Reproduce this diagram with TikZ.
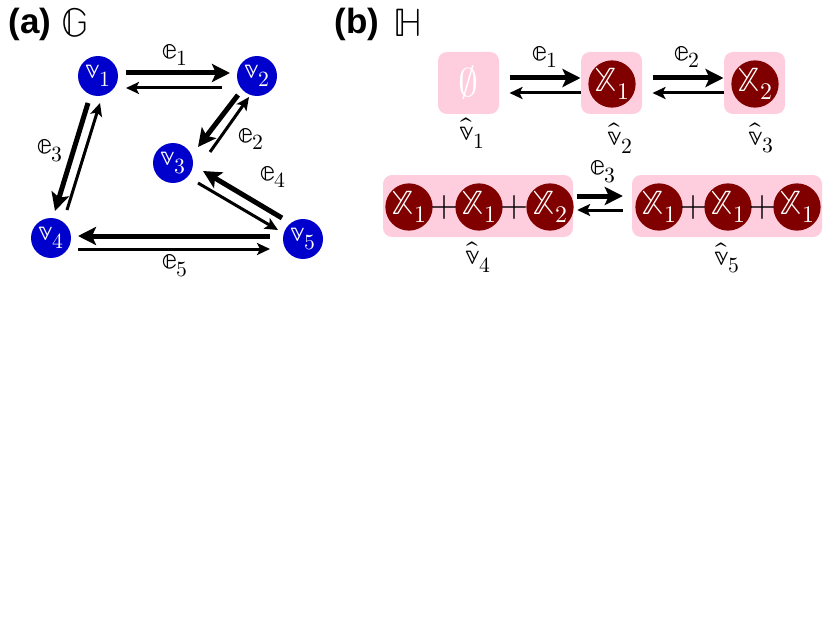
\documentclass[tikz,border=0pt]{standalone}
\usepackage{fontspec}
\usepackage{unicode-math}
\setmathfont{Latin Modern Math}
\newfontfamily\hv{Liberation Sans}
\usetikzlibrary{arrows.meta}
\definecolor{vblue}{RGB}{0,0,204}
\definecolor{xred}{RGB}{128,0,0}
\definecolor{boxpink}{RGB}{255,206,222}
\begin{document}
\begin{tikzpicture}[x=1pt,y=-1pt,
  font=\fontsize{31}{36}\selectfont,
  gnode/.style={circle,fill=vblue,text=white,minimum size=40pt,inner sep=0pt},
  xnode/.style={circle,fill=xred,text=white,minimum size=42pt,inner sep=0pt,font=\fontsize{34}{38}\selectfont},
  pbox/.style={fill=boxpink,rounded corners=9pt,inner sep=0pt},
  thk/.style={line width=5pt,-{Stealth[length=18pt,width=18pt,inset=4pt]}},
  thn/.style={line width=3pt,-{Stealth[length=13pt,width=12pt,inset=3pt]}},
  lab/.style={inner sep=0pt},
  plus/.style={inner sep=0pt,font=\fontsize{36}{40}\selectfont},
  ttl/.style={inner sep=0pt,font=\fontsize{40}{46}\selectfont},
  hdr/.style={inner sep=0pt,font=\fontsize{35}{40}\selectfont\hv\bfseries}
]
\useasboundingbox (0,0) rectangle (830,623);
% titles
\node[hdr] (ta) at (30,24) {(a)};
\node[ttl] (tg) at (75,23) {$\mathbb{G}$};
\node[hdr] (tb) at (357,24) {(b)};
\node[ttl] (th) at (408,23) {$\mathbb{H}$};
% graph G
\node[gnode] (v1) at (98,76) {$\mathbb{v}_1$};
\node[gnode] (v2) at (257,76) {$\mathbb{v}_2$};
\node[gnode] (v3) at (173,163) {$\mathbb{v}_3$};
\node[gnode] (v4) at (51,238) {$\mathbb{v}_4$};
\node[gnode] (v5) at (303,239) {$\mathbb{v}_5$};
\draw[thk] ([shift={(28,-3)}]v1.center) -- ([shift={(-27,-3)}]v2.center);
\draw[thn] ([shift={(-35,12)}]v2.center) -- ([shift={(28,12)}]v1.center);
\draw[thk] ([shift={(-19,19)}]v2.center) -- ([shift={(25,-16)}]v3.center);
\draw[thn] ([shift={(37,-11)}]v3.center) -- ([shift={(-8,21)}]v2.center);
\draw[thk] ([shift={(-10,27)}]v1.center) -- ([shift={(4,-27)}]v4.center);
\draw[thn] ([shift={(16,-28)}]v4.center) -- ([shift={(2,27)}]v1.center);
\draw[thk] ([shift={(-21,-21)}]v5.center) -- ([shift={(30,8)}]v3.center);
\draw[thn] ([shift={(25,20)}]v3.center) -- ([shift={(-25,-9)}]v5.center);
\draw[thk] ([shift={(-33,-3)}]v5.center) -- ([shift={(27,-2)}]v4.center);
\draw[thn] ([shift={(27,11)}]v4.center) -- ([shift={(-33,10)}]v5.center);
\node[lab] (le1) at (175,55) {$\mathbb{e}_1$};
\node[lab] (le2) at (251,139) {$\mathbb{e}_2$};
\node[lab] (le3) at (50,151) {$\mathbb{e}_3$};
\node[lab] (le4) at (273,177) {$\mathbb{e}_4$};
\node[lab] (le5) at (175,266) {$\mathbb{e}_5$};
% graph H, row 1
\node[pbox,minimum width=61pt,minimum height=62pt] (b1) at (468.5,83) {};
\node[pbox,minimum width=61pt,minimum height=62pt] (b2) at (611.5,83) {};
\node[pbox,minimum width=61pt,minimum height=62pt] (b3) at (754.5,83) {};
\node[text=white,inner sep=0pt,font=\fontsize{40}{46}\selectfont] (em) at (b1) {$\emptyset$};
\node[xnode] (x21) at (612,84) {$\mathbb{X}_1$};
\node[xnode] (x32) at (755,84) {$\mathbb{X}_2$};
\draw[thk] ([shift={(41,-5)}]b1.center) -- ([shift={(-31,-5)}]b2.center);
\draw[thn] ([shift={(-31,10)}]b2.center) -- ([shift={(41,10)}]b1.center);
\draw[thk] ([shift={(41,-5)}]b2.center) -- ([shift={(-31,-5)}]b3.center);
\draw[thn] ([shift={(-31,10)}]b3.center) -- ([shift={(41,10)}]b2.center);
\node[lab] (he1) at (545,57) {$\mathbb{e}_1$};
\node[lab] (he2) at (687,57) {$\mathbb{e}_2$};
\node[lab] (hv1) at (472,133) {$\hat{\mathbb{v}}_1$};
\node[lab] (hv2) at (620,138) {$\hat{\mathbb{v}}_2$};
\node[lab] (hv3) at (761,138) {$\hat{\mathbb{v}}_3$};
% row 2
\node[pbox,minimum width=190pt,minimum height=62pt] (b4) at (478,206) {};
\node[pbox,minimum width=190pt,minimum height=62pt] (b5) at (727,206) {};
\node[xnode] (c41) at (409,207) {$\mathbb{X}_1$};
\node[xnode] (c42) at (479,207) {$\mathbb{X}_1$};
\node[xnode] (c43) at (550,207) {$\mathbb{X}_2$};
\node[plus] (p41) at (444,207) {$+$};
\node[plus] (p42) at (514.5,207) {$+$};
\node[xnode] (c51) at (659,207) {$\mathbb{X}_1$};
\node[xnode] (c52) at (728,207) {$\mathbb{X}_1$};
\node[xnode] (c53) at (797,207) {$\mathbb{X}_1$};
\node[plus] (p51) at (693.5,207) {$+$};
\node[plus] (p52) at (762.5,207) {$+$};
\draw[thk] ([shift={(4,-10)}]b4.east) -- ([shift={(-9,-10)}]b5.west);
\draw[thn] ([shift={(-9,4)}]b5.west) -- ([shift={(4,4)}]b4.east);
\node[lab] (he3) at (603,172) {$\mathbb{e}_3$};
\node[lab] (hv4) at (478,257) {$\hat{\mathbb{v}}_4$};
\node[lab] (hv5) at (727,258) {$\hat{\mathbb{v}}_5$};
\end{tikzpicture}
\end{document}
